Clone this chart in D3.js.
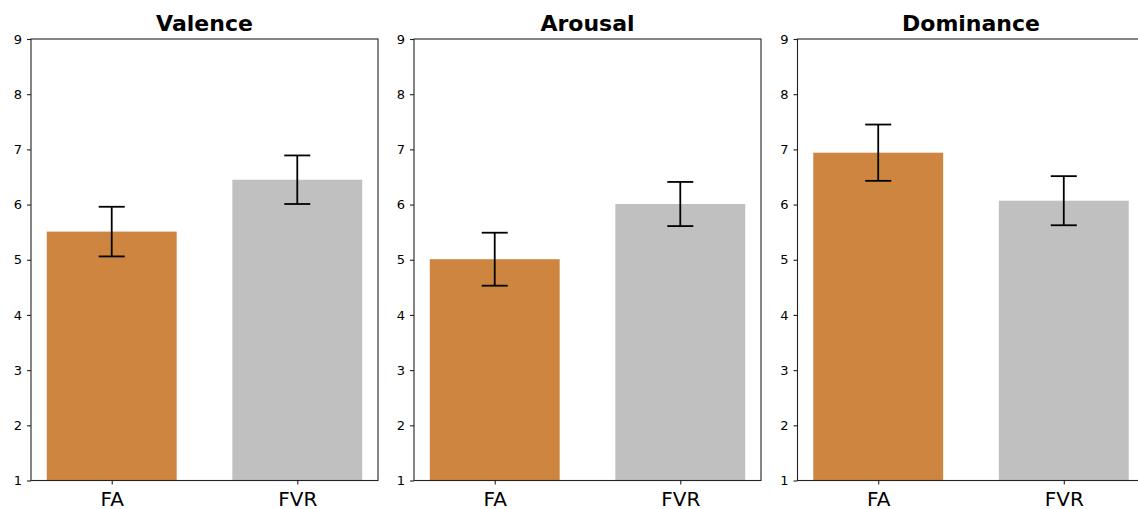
<!DOCTYPE html>
<html>
<meta charset="utf-8">
<style>
    body { margin: 0; background: #fff; }
    svg { display: block; font-family: "DejaVu Sans", sans-serif; }
    .axis path, .axis line { stroke: #222; stroke-width: 1.1; }
    .axis text { fill: #000; font-family: "DejaVu Sans", sans-serif; }
    .yaxis text { font-size: 13px; }
    .xaxis text { font-size: 20px; }
</style>
<body>
<script src="https://cdn.jsdelivr.net/npm/d3@7"></script>
<script>

    var panels = ["Valence", "Arousal", "Dominance"];
    var groups = ["FA", "FVR"];
    var means = [[5.51, 6.45], [5.01, 6.01], [6.94, 6.07]];
    var errs = [[0.45, 0.44], [0.48, 0.40], [0.51, 0.445]];
    var yTicks = [1, 2, 3, 4, 5, 6, 7, 8, 9];
    var colors = ["#cd853f", "#c0c0c0"];

    var W = 1138, H = 509;
    var lefts = [31, 414, 797.5],
        pw = 347,
        plotTop = 39,
        plotBottom = 480.5,
        ph = plotBottom - plotTop;

    var svg = d3.select("body").append("svg")
        .attr("width", W)
        .attr("height", H);

    var y = d3.scaleLinear().domain([1, 9]).range([ph, 0]);
    var x = d3.scaleLinear().domain([-0.435, 1.435]).range([0, pw]);
    var bw = x(0.7) - x(0);
    var cap = 13;

    panels.forEach(function(name, p) {
        var g = svg.append("g")
            .attr("transform", "translate(" + lefts[p] + "," + plotTop + ")");

        var data = groups.map(function(k, i) {
            return {i: i, label: k, v: means[p][i], e: errs[p][i]};
        });

        g.selectAll("rect.bar")
            .data(data)
            .enter().append("rect")
            .attr("class", "bar")
            .attr("x", function(d) { return x(d.i) - bw / 2; })
            .attr("width", bw)
            .attr("y", function(d) { return y(d.v); })
            .attr("height", function(d) { return y(1) - y(d.v); })
            .attr("fill", function(d) { return colors[d.i]; });

        var eb = g.selectAll("g.err")
            .data(data)
            .enter().append("g")
            .attr("class", "err")
            .attr("stroke", "#000")
            .attr("stroke-width", 1.8);
        eb.append("line")
            .attr("x1", function(d) { return x(d.i); })
            .attr("x2", function(d) { return x(d.i); })
            .attr("y1", function(d) { return y(d.v - d.e); })
            .attr("y2", function(d) { return y(d.v + d.e); });
        eb.append("line")
            .attr("x1", function(d) { return x(d.i) - cap; })
            .attr("x2", function(d) { return x(d.i) + cap; })
            .attr("y1", function(d) { return y(d.v + d.e); })
            .attr("y2", function(d) { return y(d.v + d.e); });
        eb.append("line")
            .attr("x1", function(d) { return x(d.i) - cap; })
            .attr("x2", function(d) { return x(d.i) + cap; })
            .attr("y1", function(d) { return y(d.v - d.e); })
            .attr("y2", function(d) { return y(d.v - d.e); });

        // frame
        g.append("rect")
            .attr("width", pw)
            .attr("height", ph)
            .attr("fill", "none")
            .attr("stroke", "#222")
            .attr("stroke-width", 1.1);

        g.append("g")
            .attr("class", "axis yaxis")
            .call(d3.axisLeft(y).tickValues(yTicks).tickSize(4).tickPadding(5).tickFormat(d3.format("d")))
            .call(function(a) { a.select(".domain").remove(); })
            .attr("font-size", 13)
            .attr("font-family", "DejaVu Sans");

        g.append("g")
            .attr("class", "axis xaxis")
            .attr("transform", "translate(0," + ph + ")")
            .call(d3.axisBottom(x).tickValues([0, 1]).tickSize(4).tickPadding(7)
                .tickFormat(function(d) { return groups[d]; }))
            .call(function(a) { a.select(".domain").remove(); })
            .attr("font-size", 20)
            .attr("font-family", "DejaVu Sans");

        g.append("text")
            .attr("x", pw / 2)
            .attr("y", -8)
            .attr("text-anchor", "middle")
            .style("font-size", "22px")
            .style("font-weight", "bold")
            .text(name);
    });

</script>
</body>
</html>
